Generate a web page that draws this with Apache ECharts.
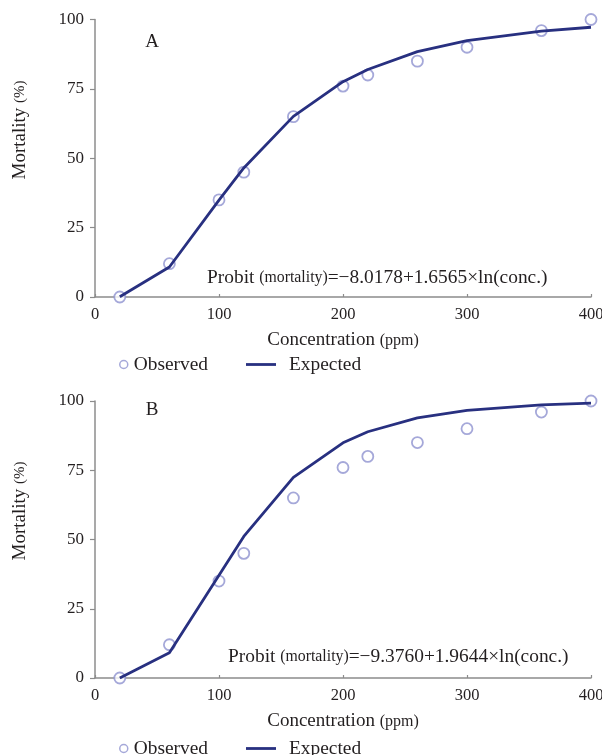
<!DOCTYPE html>
<html>
<head>
<meta charset="utf-8">
<script src="https://cdn.jsdelivr.net/npm/echarts@6/dist/echarts.min.js"></script>
<style>
html,body{margin:0;padding:0;background:#fff;}
#chart{width:602px;height:755px;}
</style>
</head>
<body>
<div id="chart"></div>
<script>
const concentration = [20, 60, 100, 120, 160, 200, 220, 260, 300, 360, 400];
const observedA = [0, 12, 35, 45, 65, 76, 80, 85, 90, 96, 100];
const expectedA = [0.1, 10.8, 34.9, 46.5, 65.1, 77.6, 82.0, 88.4, 92.4, 95.8, 97.2];
const observedB = [0, 12, 35, 45, 65, 76, 80, 85, 90, 96, 100];
const expectedB = [0.0, 9.1, 37.1, 51.1, 72.4, 84.9, 88.9, 93.9, 96.6, 98.6, 99.2];
const xTicks = [0, 100, 200, 300, 400];
const yTicks = [0, 25, 50, 75, 100];
const panelLabels = ['A', 'B'];
const equations = ['=\u22128.0178+1.6565\u00d7ln(conc.)', '=\u22129.3760+1.9644\u00d7ln(conc.)'];

const FONT = '"Liberation Serif", "Times New Roman", serif';
const TXT = '#231f20';
const AXIS = '#8c8c8c';
const LINE = '#283080';
const MARK = '#8e92cf';

const pairs = (xs, ys) => xs.map((x, i) => [x, ys[i]]);

function xAxis(gridIndex) {
  return {
    type: 'value', gridIndex, min: xTicks[0], max: xTicks[xTicks.length - 1], interval: 100,
    name: 'Concentration {s|(ppm)}', nameLocation: 'middle', nameGap: 34,
    nameTextStyle: { fontFamily: FONT, fontSize: 19, color: TXT, rich: { s: { fontFamily: FONT, fontSize: 16, color: TXT } } },
    axisLine: { show: true, lineStyle: { color: AXIS, width: 1.5 } },
    axisTick: { show: true, inside: true, length: 3, lineStyle: { color: AXIS, width: 1.2 } },
    axisLabel: { fontFamily: FONT, fontSize: 16.5, color: TXT, margin: 9 },
    splitLine: { show: false }
  };
}
function yAxis(gridIndex) {
  return {
    type: 'value', gridIndex, min: yTicks[0], max: yTicks[yTicks.length - 1], interval: 25,
    axisLine: { show: true, lineStyle: { color: AXIS, width: 1.5 } },
    axisTick: { show: true, length: 5, lineStyle: { color: AXIS, width: 1.2 } },
    axisLabel: { fontFamily: FONT, fontSize: 17, color: TXT, margin: 11 },
    splitLine: { show: false }
  };
}
function scatter(idx, data) {
  return {
    name: 'Observed', type: 'scatter', xAxisIndex: idx, yAxisIndex: idx, data,
    symbol: 'circle', symbolSize: 11, z: 2,
    itemStyle: { color: '#fff', borderColor: MARK, borderWidth: 1.8 }
  };
}
function line(idx, data) {
  return {
    name: 'Expected', type: 'line', xAxisIndex: idx, yAxisIndex: idx, data,
    showSymbol: false, symbol: 'none', z: 3,
    lineStyle: { color: LINE, width: 2.8 }, itemStyle: { color: LINE }
  };
}
function legends(top) {
  return [
    { data: [{ name: 'Observed', icon: 'circle', itemStyle: { color: '#fff', borderColor: MARK, borderWidth: 1.5 } }],
      left: 119, top: top, padding: 0, itemWidth: 8, itemHeight: 8, selectedMode: false,
      textStyle: { fontFamily: FONT, fontSize: 19.4, color: TXT, padding: [0, 0, 0, 1] } },
    { data: [{ name: 'Expected', icon: 'rect', itemStyle: { color: LINE } }],
      left: 246, top: top, padding: 0, itemWidth: 30, itemHeight: 2.8, selectedMode: false,
      textStyle: { fontFamily: FONT, fontSize: 19.4, color: TXT, padding: [0, 0, 0, 8] } }
  ];
}
function yTitle(y) {
  return {
    type: 'text', x: 20, y: y, rotation: Math.PI / 2,
    style: {
      text: 'Mortality {s|(%)}', fontFamily: FONT, fontSize: 19, fill: TXT,
      align: 'center', verticalAlign: 'middle',
      rich: { s: { fontFamily: FONT, fontSize: 15, fill: TXT } }
    }
  };
}
function eq(x, y, txt) {
  return {
    type: 'text', x: x, y: y,
    style: {
      text: 'Probit {s|(mortality)}' + txt, fontFamily: FONT, fontSize: 19.4, fill: TXT,
      align: 'left', verticalAlign: 'middle',
      rich: { s: { fontFamily: FONT, fontSize: 15.8, fill: TXT } }
    }
  };
}
function panelLabel(x, y, t) {
  return { type: 'text', x: x, y: y, style: { text: t, fontFamily: FONT, fontSize: 19, fill: TXT, align: 'center', verticalAlign: 'middle' } };
}

const chart = echarts.init(document.getElementById('chart'), null, { renderer: 'canvas' });
chart.setOption({
  backgroundColor: '#fff',
  animation: false,
  grid: [
    { left: 95, right: 11, top: 19.5, height: 277.5, containLabel: false, outerBoundsMode: 'none' },
    { left: 95, right: 11, top: 401, height: 277, containLabel: false, outerBoundsMode: 'none' }
  ],
  xAxis: [xAxis(0), xAxis(1)],
  yAxis: [yAxis(0), yAxis(1)],
  legend: legends(355).concat(legends(739)),
  series: [
    scatter(0, pairs(concentration, observedA)),
    line(0, pairs(concentration, expectedA)),
    scatter(1, pairs(concentration, observedB)),
    line(1, pairs(concentration, expectedB))
  ],
  graphic: [
    yTitle(130), yTitle(511),
    panelLabel(152, 42, panelLabels[0]), panelLabel(152, 410, panelLabels[1]),
    eq(207, 278, equations[0]), eq(228, 657, equations[1])
  ]
});
</script>
</body>
</html>
